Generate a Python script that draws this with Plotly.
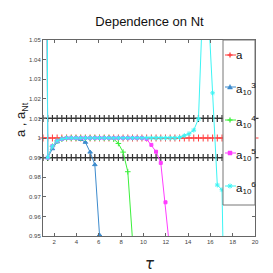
import numpy as np
import plotly.graph_objects as go

# ---------------- data ----------------
tau = np.linspace(1, 20, 46)          # time grid

A_VALUE = 1.0                          # exact a
UPPER_BOUND = 1.01                     # +1 % band
LOWER_BOUND = 0.99                     # -1 % band

a_1e3 = [1.6, 0.990, 0.9945, 0.998, 0.9995, 1.0, 1.0, 1.0, 0.9993, 0.9978,
         0.9928, 0.9864, 0.9505, 0.78]
a_1e4 = [1.6, 0.990, 0.9958, 0.9985, 0.9995, 1.0, 1.0, 1.0, 1.0, 1.0,
         1.0, 1.0, 1.0, 1.0, 1.0, 0.9995, 0.9972, 0.9928, 0.9828, 0.948, 0.80]
a_1e5 = [1.6, 0.990, 0.9958, 0.9985, 0.9995, 1.0, 1.0, 1.0, 1.0, 1.0,
         1.0, 1.0, 1.0, 1.0, 1.0, 1.0, 1.0, 1.0, 1.0, 1.0,
         1.0, 1.0, 0.9995, 0.9965, 0.993, 0.9873, 0.9672, 0.941, 0.80]
a_1e6 = [2.0, 0.990, 0.9958, 0.9985, 0.9995, 1.0, 1.0, 1.0, 1.0, 1.0,
         1.0, 1.0, 1.0, 1.0, 1.0, 1.0, 1.0, 1.0, 1.0, 1.0,
         1.0, 1.0, 1.0, 1.0, 1.0, 1.0, 1.0, 1.0, 1.0, 1.0003,
         1.0012, 1.0022, 1.004, 1.0098, 1.075, 1.070, 1.023, 0.976, 0.9736, 0.881,
         0.70]

x_ticks = [2, 4, 6, 8, 10, 12, 14, 16, 18, 20]
legend_labels = ["a", "a<sub>10</sub><sup>3</sup>", "a<sub>10</sub><sup>4</sup>",
                 "a<sub>10</sub><sup>5</sup>", "a<sub>10</sub><sup>6</sup>"]

# ---------------- style ----------------
NARROW = "Liberation Sans Narrow, Arial Narrow, Liberation Sans, Arial, sans-serif"
C_RED = "#ff3b3b"
C_BLUE = "#3d8bcd"
C_GREEN = "#3cf03c"
C_MAG = "#ff3cff"
C_CYAN = "#3cf4f4"
C_BLACK = "#333333"

W, H = 273, 273
ML, MR, MT, MB = 35, 26, 32, 45
PW, PH = W - ML - MR, H - MT - MB


def px2paper(px, py):
    return (px - ML) / PW, (H - MB - py) / PH


fig = go.Figure()

n = len(tau)
for val in (UPPER_BOUND, LOWER_BOUND):
    fig.add_trace(go.Scatter(
        x=tau, y=[val] * n, mode="lines+markers", showlegend=False,
        line=dict(color=C_BLACK, width=1), cliponaxis=False,
        marker=dict(symbol="cross-thin-open", size=5,
                    line=dict(color=C_BLACK, width=1.2))))

fig.add_trace(go.Scatter(
    x=tau, y=[A_VALUE] * n, mode="lines+markers", showlegend=False,
    line=dict(color=C_RED, width=1), cliponaxis=False,
    marker=dict(symbol="cross-thin-open", size=5,
                line=dict(color=C_RED, width=1))))

series = [
    (a_1e3, C_BLUE, "triangle-up", 4),
    (a_1e4, C_GREEN, "cross-thin-open", 4),
    (a_1e5, C_MAG, "square", 3),
    (a_1e6, C_CYAN, "asterisk-open", 4),
]
for vals, col, sym, sz in series:
    fig.add_trace(go.Scatter(
        x=tau[:len(vals)], y=vals, mode="lines+markers", showlegend=False,
        line=dict(color=col, width=1),
        marker=dict(symbol=sym, size=sz, color=col,
                    line=dict(color=col, width=1))))

# ---------------- custom legend ----------------
shapes = []
annotations = []
lx0, ly0 = px2paper(215, 32)
lx1, ly1 = px2paper(247, 197)
shapes.append(dict(type="rect", xref="paper", yref="paper", x0=lx0, x1=lx1,
                   y0=ly1, y1=ly0, line=dict(color="#777777", width=1),
                   fillcolor="white", layer="above"))
rows = [47, 79, 112, 145, 178]
cols = [C_RED, C_BLUE, C_GREEN, C_MAG, C_CYAN]
for i, (py, col, lab) in enumerate(zip(rows, cols, legend_labels)):
    xa, ya = px2paper(217, py)
    xb, _ = px2paper(228, py)
    shapes.append(dict(type="line", xref="paper", yref="paper", x0=xa, x1=xb,
                       y0=ya, y1=ya, line=dict(color=col, width=1), layer="above"))
    xm, ym = px2paper(222, py)
    common = dict(xref="paper", yref="paper", xsizemode="pixel", ysizemode="pixel",
                  xanchor=xm, yanchor=ym, layer="above")
    if i in (0, 2):
        shapes.append(dict(type="line", x0=-2.5, x1=2.5, y0=0, y1=0,
                           line=dict(color=col, width=1.3), **common))
        shapes.append(dict(type="line", x0=0, x1=0, y0=-2.5, y1=2.5,
                           line=dict(color=col, width=1.3), **common))
    elif i == 1:
        shapes.append(dict(type="path", path="M -2.5 -2 L 2.5 -2 L 0 2.5 Z",
                           fillcolor=col, line=dict(color=col, width=0.5), **common))
    elif i == 3:
        shapes.append(dict(type="rect", x0=-2, x1=2, y0=-2, y1=2,
                           fillcolor=col, line=dict(color=col, width=0.5), **common))
    else:
        for (dx, dy) in ((2.5, 0), (0, 2.5), (1.8, 1.8), (1.8, -1.8)):
            shapes.append(dict(type="line", x0=-dx, x1=dx, y0=-dy, y1=dy,
                               line=dict(color=col, width=1), **common))
    tx, ty = px2paper(227, py - 6)
    annotations.append(dict(xref="paper", yref="paper", x=tx, y=ty, text=lab,
                            showarrow=False, xanchor="left", yanchor="top",
                            xshift=-1, yshift=2,
                            font=dict(family=NARROW, size=11.5, color="#111111")))

# axis labels
xl, yl = px2paper(141.5, 256)
annotations.append(dict(xref="paper", yref="paper", x=xl, y=yl, text="<i>τ</i>",
                        xanchor="center", yanchor="middle",
                        showarrow=False, font=dict(family="DejaVu Sans", size=15,
                                                   color="#222222")))
xl, yl = px2paper(13, 112)
annotations.append(dict(xref="paper", yref="paper", x=xl, y=yl,
                        text="a , a<sub>Nt</sub>", textangle=-90, showarrow=False,
                        xanchor="center", yanchor="middle",
                        font=dict(family="Liberation Sans, Arial, sans-serif",
                                  size=13, color="#222222")))

axis_common = dict(showline=True, linecolor="#666666", linewidth=1, mirror="allticks",
                   ticks="inside", ticklen=3, tickcolor="#666666", showgrid=False,
                   zeroline=False, tickfont=dict(family=NARROW, size=6, color="#444444"))

fig.update_layout(
    width=W, height=H,
    margin=dict(l=ML, r=MR, t=MT, b=MB),
    paper_bgcolor="white", plot_bgcolor="white",
    showlegend=False,
    title=dict(text="Dependence on Nt", x=141.5 / W, xanchor="center",
               y=1 - 13 / H, yanchor="middle",
               font=dict(family=NARROW, size=13, color="#111111")),
    xaxis=dict(range=[1, 20], tickvals=x_ticks, **axis_common),
    yaxis=dict(range=[0.95, 1.05], dtick=0.01, **axis_common),
    shapes=shapes,
    annotations=annotations,
)

fig.write_html("out.html")
